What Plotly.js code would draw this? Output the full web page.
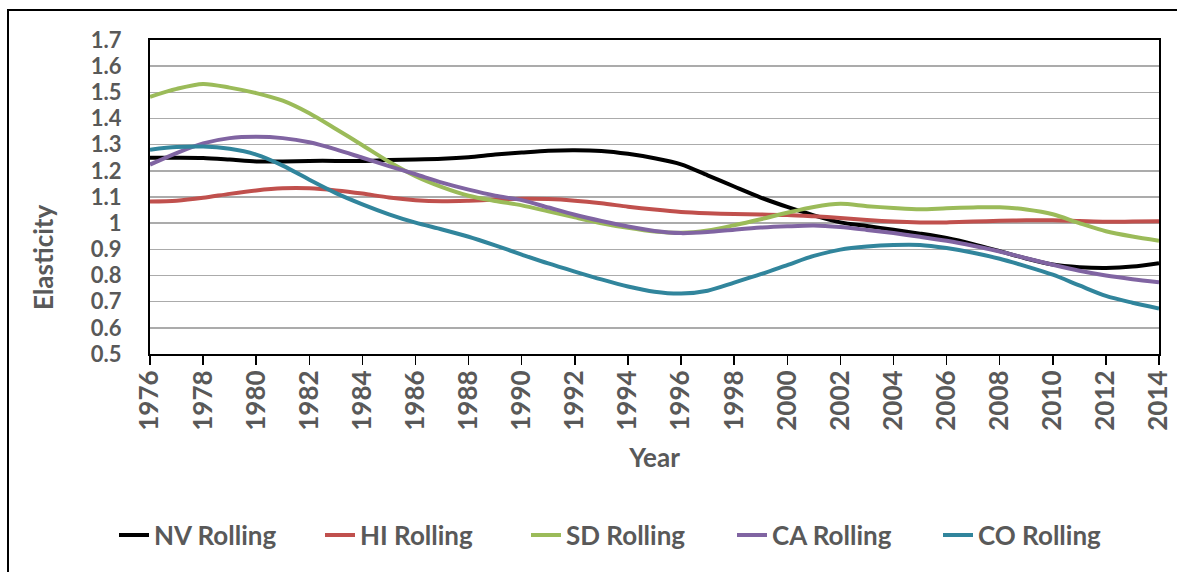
<!DOCTYPE html>
<html>
<head>
<meta charset="utf-8">
<script src="https://cdn.plot.ly/plotly-3.0.1.min.js"></script>
<style>html,body{margin:0;padding:0;background:#fff;}#chart{width:1177px;height:572px;}</style>
</head>
<body>
<div id="chart"></div>
<script>
const years = [1976,1977,1978,1979,1980,1981,1982,1983,1984,1985,1986,1987,1988,1989,1990,1991,1992,1993,1994,1995,1996,1997,1998,1999,2000,2001,2002,2003,2004,2005,2006,2007,2008,2009,2010,2011,2012,2013,2014];
const nvRolling = [1.250,1.250,1.249,1.243,1.236,1.236,1.238,1.238,1.238,1.241,1.243,1.246,1.252,1.262,1.270,1.277,1.279,1.276,1.265,1.248,1.225,1.183,1.140,1.098,1.062,1.030,1.003,0.989,0.975,0.960,0.943,0.920,0.893,0.865,0.842,0.832,0.829,0.834,0.847];
const hiRolling = [1.083,1.086,1.097,1.112,1.125,1.133,1.133,1.125,1.113,1.098,1.088,1.084,1.086,1.090,1.093,1.092,1.086,1.076,1.063,1.052,1.043,1.038,1.035,1.033,1.031,1.026,1.020,1.012,1.006,1.003,1.003,1.006,1.009,1.011,1.011,1.008,1.005,1.006,1.007];
const sdRolling = [1.483,1.513,1.532,1.518,1.497,1.468,1.420,1.360,1.298,1.235,1.180,1.138,1.105,1.085,1.068,1.045,1.022,1.000,0.982,0.968,0.963,0.972,0.992,1.015,1.040,1.062,1.074,1.065,1.058,1.053,1.057,1.060,1.061,1.052,1.034,1.000,0.969,0.949,0.933];
const caRolling = [1.224,1.268,1.305,1.325,1.330,1.325,1.309,1.282,1.250,1.218,1.187,1.155,1.128,1.105,1.088,1.060,1.032,1.008,0.987,0.970,0.962,0.966,0.975,0.983,0.988,0.991,0.985,0.974,0.962,0.948,0.933,0.914,0.892,0.866,0.841,0.818,0.800,0.786,0.774];
const coRolling = [1.281,1.291,1.293,1.284,1.262,1.220,1.166,1.115,1.072,1.034,1.002,0.976,0.948,0.915,0.880,0.846,0.815,0.785,0.758,0.738,0.731,0.742,0.773,0.805,0.840,0.875,0.899,0.911,0.917,0.917,0.905,0.887,0.864,0.835,0.803,0.762,0.722,0.696,0.674];
const seriesNames = ['NV Rolling','HI Rolling','SD Rolling','CA Rolling','CO Rolling'];
const seriesColors = ['#000000','#c0504d','#9bbb59','#8064a2','#31859c'];
const seriesValues = [nvRolling, hiRolling, sdRolling, caRolling, coRolling];
const yTickVals = [0.5,0.6,0.7,0.8,0.9,1,1.1,1.2,1.3,1.4,1.5,1.6,1.7];
const yTickText = ['0.5','0.6','0.7','0.8','0.9','1','1.1','1.2','1.3','1.4','1.5','1.6','1.7'];

const FONT = 'Lato, Carlito, "Open Sans", sans-serif';
const GRAY = '#595959';

const traces = seriesValues.map((vals, i) => ({
  type: 'scatter', mode: 'lines', x: years, y: vals, name: seriesNames[i],
  line: {color: seriesColors[i], width: 4, shape: 'spline', smoothing: 0.8}
}));

const L = 150, R = 18, T = 40, B = 218, W = 1177, H = 572;
const pw = W - L - R, ph = H - T - B;
const px = v => (v - L) / pw;
const py = v => (H - B - v) / ph;

const layout = {
  width: W, height: H,
  margin: {l: L, r: R, t: T, b: B, pad: 0, autoexpand: false},
  paper_bgcolor: '#ffffff', plot_bgcolor: '#ffffff',
  font: {family: FONT, color: GRAY, size: 26, weight: 'bold'},
  showlegend: true,
  legend: {
    orientation: 'h', x: px(114), xanchor: 'left', y: py(535), yanchor: 'middle',
    font: {family: FONT, size: 26, color: GRAY, weight: 'bold'},
    entrywidth: 161, entrywidthmode: 'pixels', bgcolor: 'rgba(0,0,0,0)'
  },
  xaxis: {
    range: [1976, 2014], tickmode: 'linear', tick0: 1976, dtick: 2, automargin: false,
    tickangle: -90, ticks: 'outside', ticklen: 9, tickwidth: 1.5, tickcolor: '#000',
    ticklabelstandoff: -5,
    showline: true, linecolor: '#000', linewidth: 2, mirror: true,
    showgrid: false, zeroline: false,
    tickfont: {family: FONT, size: 26, color: GRAY, weight: 'bold'},
    title: {text: 'Year', font: {family: FONT, size: 26, color: GRAY, weight: 'bold'}, standoff: 19}
  },
  yaxis: {
    range: [0.5, 1.7], tickmode: 'array', tickvals: yTickVals, ticktext: yTickText, automargin: false,
    ticks: '', ticklabelstandoff: 22,
    showline: true, linecolor: '#000', linewidth: 2, mirror: true,
    showgrid: true, gridcolor: '#ababab', gridwidth: 1.6, zeroline: false,
    tickfont: {family: FONT, size: 22, color: GRAY, weight: 'bold'}
  },
  annotations: [{
    text: 'Elasticity', xref: 'paper', yref: 'paper', x: px(43), y: py(257),
    xanchor: 'center', yanchor: 'middle', textangle: -90, showarrow: false,
    font: {family: FONT, size: 26, color: GRAY, weight: 'bold'}
  }],
  shapes: [
    {type: 'line', xref: 'paper', yref: 'paper', x0: px(8), x1: px(8), y0: py(10), y1: py(600), line: {color: '#000', width: 2}},
    {type: 'line', xref: 'paper', yref: 'paper', x0: px(7), x1: px(1200), y0: py(10), y1: py(10), line: {color: '#000', width: 2}}
  ]
};

Plotly.newPlot('chart', traces, layout, {displayModeBar: false, staticPlot: true});
</script>
</body>
</html>
